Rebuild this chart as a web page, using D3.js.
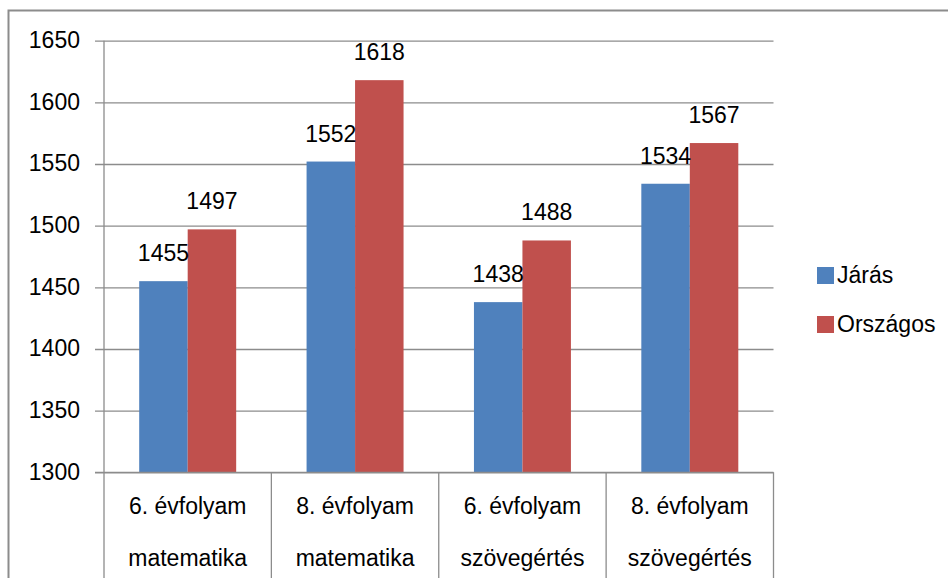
<!DOCTYPE html>
<html>
<head>
<meta charset="utf-8">
<script src="https://cdn.jsdelivr.net/npm/d3@7"></script>
<style>
  body { margin: 0; background: #fff; }
  text { font-family: "Liberation Sans", Arial, sans-serif; fill: #000; }
</style>
</head>
<body>
<div id="chart"></div>
<script>
const categories = [
    ["6. évfolyam", "matematika"],
    ["8. évfolyam", "matematika"],
    ["6. évfolyam", "szövegértés"],
    ["8. évfolyam", "szövegértés"]
];
const seriesNames = ["Járás", "Országos"];
const jarasValues = [1455, 1552, 1438, 1534];
const orszagosValues = [1497, 1618, 1488, 1567];
const yTicks = [1300, 1350, 1400, 1450, 1500, 1550, 1600, 1650];
const colors = ["#4F81BD", "#C0504D"];

const svgWidth = 948;
const svgHeight = 578;
const plot = { left: 104, right: 773.5, top: 40.7, bottom: 472.3 };

const svg = d3.select("#chart").append("svg")
    .attr("width", svgWidth)
    .attr("height", svgHeight);

// outer frame
svg.append("rect")
    .attr("x", 8.5).attr("y", 10.5)
    .attr("width", 960).attr("height", 600)
    .attr("fill", "none")
    .attr("stroke", "#8c8c8c")
    .attr("stroke-width", 2);

const xScale = d3.scaleBand()
    .domain(d3.range(categories.length))
    .range([plot.left, plot.right])
    .paddingInner(0)
    .paddingOuter(0);

const inner = d3.scaleBand()
    .domain(d3.range(seriesNames.length))
    .range([0, xScale.bandwidth()])
    .paddingInner(0)
    .paddingOuter(0.726);

const yScale = d3.scaleLinear()
    .domain([1300, 1650])
    .range([plot.bottom, plot.top]);

// gridlines + y labels
const yAxis = d3.axisLeft(yScale)
    .tickValues(yTicks)
    .tickSize(-(plot.right - plot.left))
    .tickPadding(24)
    .tickFormat(d3.format("d"));

const yG = svg.append("g")
    .attr("transform", `translate(${plot.left},0)`)
    .call(yAxis);
yG.select(".domain").remove();
yG.selectAll(".tick line")
    .attr("x1", -9)
    .attr("stroke", "#8c8c8c")
    .attr("stroke-width", 1.3);
yG.selectAll(".tick text")
    .attr("font-size", 23)
    .attr("dy", "0.3em")
    .style("font-family", "Liberation Sans, Arial, sans-serif")
    .attr("fill", "#000");

// bars
const data = categories.map((c, i) => [jarasValues[i], orszagosValues[i]]);
const groups = svg.selectAll(".grp")
    .data(data)
    .enter().append("g")
    .attr("class", "grp")
    .attr("transform", (d, i) => `translate(${xScale(i)},0)`);

groups.selectAll("rect")
    .data(d => d)
    .enter().append("rect")
    .attr("x", (d, j) => inner(j))
    .attr("y", d => yScale(d))
    .attr("width", inner.bandwidth())
    .attr("height", d => plot.bottom - yScale(d))
    .attr("fill", (d, j) => colors[j]);

groups.selectAll(".val")
    .data(d => d)
    .enter().append("text")
    .attr("class", "val")
    .attr("x", (d, j) => inner(j) + inner.bandwidth() / 2)
    .attr("y", d => yScale(d) - 20)
    .attr("text-anchor", "middle")
    .attr("font-size", 23)
    .text(d => d);

// axis line at bottom
svg.append("line")
    .attr("x1", plot.left - 9).attr("x2", plot.right)
    .attr("y1", plot.bottom).attr("y2", plot.bottom)
    .attr("stroke", "#8c8c8c").attr("stroke-width", 1.3);

// vertical axis and category separators
svg.selectAll(".sep")
    .data(d3.range(categories.length + 1))
    .enter().append("line")
    .attr("class", "sep")
    .attr("x1", i => plot.left + i * xScale.bandwidth())
    .attr("x2", i => plot.left + i * xScale.bandwidth())
    .attr("y1", i => (i === 0 ? plot.top : plot.bottom))
    .attr("y2", svgHeight)
    .attr("stroke", "#8c8c8c")
    .attr("stroke-width", 1.3);

// category labels
const catText = svg.selectAll(".cat")
    .data(categories)
    .enter().append("text")
    .attr("class", "cat")
    .attr("text-anchor", "middle")
    .attr("font-size", 23);
catText.append("tspan")
    .attr("x", (d, i) => xScale(i) + xScale.bandwidth() / 2)
    .attr("y", 514)
    .text(d => d[0]);
catText.append("tspan")
    .attr("x", (d, i) => xScale(i) + xScale.bandwidth() / 2)
    .attr("y", 566)
    .text(d => d[1]);

// legend
const legend = svg.selectAll(".leg")
    .data(seriesNames)
    .enter().append("g")
    .attr("class", "leg")
    .attr("transform", (d, i) => `translate(817,${267 + i * 49})`);
legend.append("rect")
    .attr("width", 17).attr("height", 17)
    .attr("fill", (d, i) => colors[i]);
legend.append("text")
    .attr("x", 20).attr("y", 16)
    .attr("font-size", 23)
    .text(d => d);
</script>
</body>
</html>
